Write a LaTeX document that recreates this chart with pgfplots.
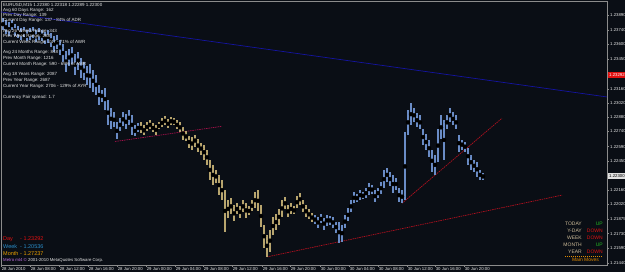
\documentclass[border=0pt]{standalone}
\usepackage{fontspec}
\setmainfont{Liberation Sans}
\usepackage{pgfplots}
\pgfplotsset{compat=1.18}
\usepackage{pgfplotstable}

\definecolor{bg}{HTML}{0A0E15}
\definecolor{barblue}{HTML}{6A8CC6}
\definecolor{bartan}{HTML}{B8A56E}
\definecolor{trendred}{HTML}{B0101E}
\definecolor{trendmag}{HTML}{A01048}
\definecolor{trendblue}{HTML}{1414A0}
\definecolor{framec}{HTML}{8C8C8C}
\definecolor{txt}{HTML}{E6E6E6}
\definecolor{dayred}{HTML}{E01010}
\definecolor{weekblue}{HTML}{2A8CC8}
\definecolor{monthor}{HTML}{E8A000}
\definecolor{panellab}{HTML}{CDBB98}
\definecolor{upgreen}{HTML}{22BB22}
\definecolor{downred}{HTML}{DD1111}
\definecolor{mainmv}{HTML}{E08A00}
\definecolor{violetc}{HTML}{C070E0}

\pgfplotstableread{
x lo hi
3 1.2374 1.2386
6 1.2370 1.2384
9 1.2368 1.2382
12 1.2374 1.2384
15 1.2368 1.2380
18 1.2366 1.2378
21 1.2364 1.2376
24 1.2367 1.2377
27 1.2363 1.2374
30 1.2364 1.2376
33 1.2366 1.2377
36 1.2362 1.2374
39 1.2364 1.2376
42 1.2363 1.2374
45 1.2360 1.2372
48 1.2361 1.2374
51 1.2357 1.2371
54 1.2353 1.2368
57 1.2355 1.2369
60 1.2350 1.2364
63 1.2343 1.2360
66 1.2333 1.2353
69 1.2339 1.2355
72 1.2341 1.2357
75 1.2330 1.2350
78 1.2335 1.2353
81 1.2327 1.2347
84 1.2325 1.2343
87 1.2320 1.2339
90 1.2317 1.2341
93 1.2313 1.2335
96 1.2310 1.2330
99 1.2300 1.2320
102 1.2303 1.2315
105 1.2295 1.2317
108 1.2280 1.2305
111 1.2276 1.2297
114 1.2278 1.2293
117 1.2266 1.2283
120 1.2274 1.2287
123 1.2279 1.2293
126 1.2276 1.2291
129 1.2280 1.2295
132 1.2271 1.2290
135 1.2269 1.2280
138 1.2273 1.2282
}\blueA

\pgfplotstableread{
x lo hi
141 1.2272 1.2283
144 1.2270 1.2280
147 1.2274 1.2283
150 1.2276 1.2285
153 1.2273 1.2282
156 1.2271 1.2280
159 1.2276 1.2283
162 1.2278 1.2287
165 1.2280 1.2289
168 1.2277 1.2286
171 1.2280 1.2288
174 1.2280 1.2287
177 1.2276 1.2285
180 1.2273 1.2283
183 1.2266 1.2278
186 1.2264 1.2274
189 1.2258 1.2269
192 1.2256 1.2268
195 1.2259 1.2271
198 1.2254 1.2266
201 1.2251 1.2263
204 1.2246 1.2261
207 1.2241 1.2256
210 1.2226 1.2246
213 1.2221 1.2241
216 1.2223 1.2236
219 1.2211 1.2231
222 1.2206 1.2226
225 1.2175 1.2216
228 1.2189 1.2206
231 1.2192 1.2208
234 1.2185 1.2201
237 1.2192 1.2203
240 1.2189 1.2200
243 1.2194 1.2206
246 1.2189 1.2203
249 1.2191 1.2200
252 1.2195 1.2206
255 1.2198 1.2214
258 1.2195 1.2216
261 1.2180 1.2201
264 1.2159 1.2182
267 1.2150 1.2172
270 1.2155 1.2177
273 1.2172 1.2189
276 1.2177 1.2192
279 1.2182 1.2197
282 1.2190 1.2206
285 1.2197 1.2209
288 1.2189 1.2201
291 1.2192 1.2203
294 1.2192 1.2200
297 1.2198 1.2210
300 1.2201 1.2213
303 1.2194 1.2206
306 1.2189 1.2201
309 1.2187 1.2197
312 1.2185 1.2193
}\tanB

\pgfplotstableread{
x lo hi
315 1.2183 1.2191
318 1.2179 1.2189
321 1.2183 1.2192
324 1.2177 1.2189
327 1.2181 1.2191
330 1.2182 1.2190
333 1.2179 1.2189
336 1.2174 1.2185
339 1.2164 1.2185
342 1.2165 1.2182
345 1.2179 1.2191
348 1.2185 1.2198
351 1.2194 1.2206
354 1.2203 1.2214
357 1.2204 1.2212
360 1.2206 1.2216
363 1.2207 1.2214
366 1.2208 1.2218
369 1.2211 1.2223
372 1.2212 1.2221
375 1.2204 1.2216
378 1.2208 1.2218
381 1.2212 1.2224
384 1.2218 1.2236
387 1.2224 1.2238
390 1.2220 1.2234
393 1.2213 1.2231
396 1.2216 1.2228
399 1.2204 1.2218
402 1.2203 1.2216
405 1.2206 1.2273
408 1.2271 1.2295
411 1.2280 1.2302
414 1.2283 1.2297
417 1.2278 1.2292
420 1.2276 1.2290
423 1.2261 1.2276
426 1.2256 1.2271
429 1.2249 1.2266
432 1.2234 1.2256
435 1.2231 1.2251
438 1.2244 1.2276
441 1.2266 1.2290
444 1.2246 1.2285
447 1.2276 1.2290
450 1.2283 1.2297
453 1.2280 1.2293
456 1.2276 1.2290
459 1.2254 1.2271
462 1.2256 1.2266
465 1.2254 1.2264
468 1.2241 1.2258
471 1.2236 1.2251
474 1.2234 1.2246
477 1.2229 1.2244
480 1.2226 1.2236
483 1.2226 1.2233
}\blueC

\newcommand{\tfs}{\fontsize{4.5}{5}\selectfont}
\newcommand{\afs}{\fontsize{4.3}{5}\selectfont}
\newcommand{\bfs}{\fontsize{5.5}{6}\selectfont}
\newcommand{\pfs}{\fontsize{5}{6}\selectfont}

\begin{document}
\begin{tikzpicture}
\useasboundingbox (0,0) rectangle (625pt,272pt);
\fill[bg] (0,0) rectangle (625pt,272pt);
\begin{axis}[
  at={(1pt,7pt)}, anchor=south west,
  scale only axis, width=606pt, height=264pt,
  xmin=1, xmax=607, ymin=1.21420, ymax=1.24028,
  clip=false,
  axis line style={framec, line width=0.5pt},
  tick style={framec, line width=0.4pt},
  tick align=outside, major tick length=2pt,
  ytick pos=right, yticklabel pos=right,
  xtick pos=left,
  ytick={1.2389,1.2374,1.2360,1.2345,1.2316,1.2302,1.2288,1.2274,1.2259,1.2245,1.2216,1.2202,1.21875,1.2173,1.2159,1.2144},
  yticklabels={1.23890,1.23740,1.23600,1.23450,1.23160,1.23020,1.22880,1.22740,1.22590,1.22450,1.22160,1.22020,1.21875,1.21730,1.21590,1.21440},
  yticklabel style={font=\afs, text=txt, anchor=west, inner sep=1pt},
  xtick={1,30,59,88,117,146,175,203,232,262,290,320,349,378,407,435,464},
  xticklabels={28 Jun 2010,28 Jun 08:00,28 Jun 12:00,28 Jun 16:00,28 Jun 20:00,29 Jun 00:00,29 Jun 04:00,29 Jun 08:00,29 Jun 12:00,29 Jun 16:00,29 Jun 20:00,30 Jun 00:00,30 Jun 04:00,30 Jun 08:00,30 Jun 12:00,30 Jun 16:00,30 Jun 20:00},
  xticklabel style={font=\afs, text=txt, anchor=north west, inner sep=0.6pt},
]
% trend lines
\addplot[trendblue, line width=0.7pt] coordinates {(1,1.2392) (607,1.2308)};
\addplot[trendmag, line width=0.7pt, dash pattern=on 1.5pt off 0.8pt] coordinates {(115,1.2264) (222,1.2279)};
\addplot[trendred, line width=0.7pt, dash pattern=on 1.5pt off 0.8pt] coordinates {(267,1.2150) (562,1.2211)};
\addplot[trendred, line width=0.7pt, dash pattern=on 1.5pt off 0.8pt] coordinates {(402,1.2203) (502,1.2287)};
% price bars
\addplot[only marks, mark=none, error bars/.cd, y dir=both, y explicit, error mark=none,
  error bar style={draw=barblue, line width=1.15pt}]
  table[x=x, y expr={(\thisrow{lo}+\thisrow{hi})/2}, y error expr={(\thisrow{hi}-\thisrow{lo})/2}] {\blueA};
\addplot[only marks, mark=none, error bars/.cd, y dir=both, y explicit, error mark=none,
  error bar style={draw=bartan, line width=1.15pt}]
  table[x=x, y expr={(\thisrow{lo}+\thisrow{hi})/2}, y error expr={(\thisrow{hi}-\thisrow{lo})/2}] {\tanB};
\addplot[only marks, mark=none, error bars/.cd, y dir=both, y explicit, error mark=none,
  error bar style={draw=barblue, line width=1.15pt}]
  table[x=x, y expr={(\thisrow{lo}+\thisrow{hi})/2}, y error expr={(\thisrow{hi}-\thisrow{lo})/2}] {\blueC};
% price boxes on the scale
\node[anchor=west, fill=dayred, text=white, font=\afs, inner xsep=1.5pt, inner ysep=0.8pt, minimum height=6pt] at (axis cs:607.5,1.23292) {1.23292};
\node[anchor=west, fill=white!88!black, text=black, font=\afs, inner xsep=1.5pt, inner ysep=0.8pt, minimum height=5.5pt] at (axis cs:607.5,1.22300) {1.22300};
\end{axis}

% top-left info block
\begin{scope}[every node/.style={anchor=west, inner sep=0pt, text=txt, font=\tfs}]
\node at (3pt,267pt) {EURUSD,M15  1.22380 1.22318 1.22289 1.22300};
\node at (3pt,262pt) {Avg 60 Days Range: 162};
\node at (3pt,257pt) {Prev Day Range: 139};
\node at (3pt,251.5pt) {Current Day Range: 137 - 84\% of ADR};
\node at (3pt,241pt) {Avg 26 Weeks Range: 343};
\node at (3pt,235.5pt) {Prev Week Range: 288};
\node at (3pt,230pt) {Current Week Range: 247 - 71\% of AWR};
\node at (3pt,219.5pt) {Avg 24 Months Range: 848};
\node at (3pt,214pt) {Prev Month Range: 1216};
\node at (3pt,208pt) {Current Month Range: 590 - 69\% of AMR};
\node at (3pt,198pt) {Avg 18 Years Range: 2087};
\node at (3pt,192pt) {Prev Year Range: 2687};
\node at (3pt,186pt) {Current Year Range: 2706 - 129\% of AYR};
\node at (3pt,175pt) {Currency Pair spread: 1.7};
\end{scope}

% bottom-left levels
\begin{scope}[every node/.style={anchor=west, inner sep=0pt, font=\bfs}]
\node[text=dayred] at (3pt,32.5pt) {\makebox[15.5pt][l]{Day} - 1.23292};
\node[text=weekblue] at (3pt,25.5pt) {\makebox[15.5pt][l]{Week} - 1.20536};
\node[text=monthor] at (3pt,18.5pt) {\makebox[15.5pt][l]{Month} - 1.27237};
\node[font=\afs, text=txt] at (3pt,12pt) {\textcolor{violetc}{Metro mt4 ©} 2001-2010 MetaQuotes Software Corp.};
\end{scope}

% bottom-right panel
\begin{scope}[every node/.style={inner sep=0pt, font=\pfs}]
\node[anchor=east, text=panellab] at (582pt,48pt) {TODAY};
\node[anchor=east, text=panellab] at (582pt,41pt) {Y-DAY};
\node[anchor=east, text=panellab] at (582pt,34pt) {WEEK};
\node[anchor=east, text=panellab] at (582pt,27pt) {MONTH};
\node[anchor=east, text=panellab] at (582pt,20pt) {YEAR};
\node[anchor=east, text=upgreen] at (603pt,48pt) {UP};
\node[anchor=east, text=downred] at (603pt,41pt) {DOWN};
\node[anchor=east, text=downred] at (603pt,34pt) {DOWN};
\node[anchor=east, text=upgreen] at (603pt,27pt) {UP};
\node[anchor=east, text=downred] at (603pt,20pt) {DOWN};
\draw[mainmv, line width=0.4pt, dash pattern=on 1pt off 1pt] (565pt,16pt) -- (603pt,16pt);
\node[text=mainmv] at (585.5pt,12pt) {Main Moves};
\end{scope}
\end{tikzpicture}
\end{document}
